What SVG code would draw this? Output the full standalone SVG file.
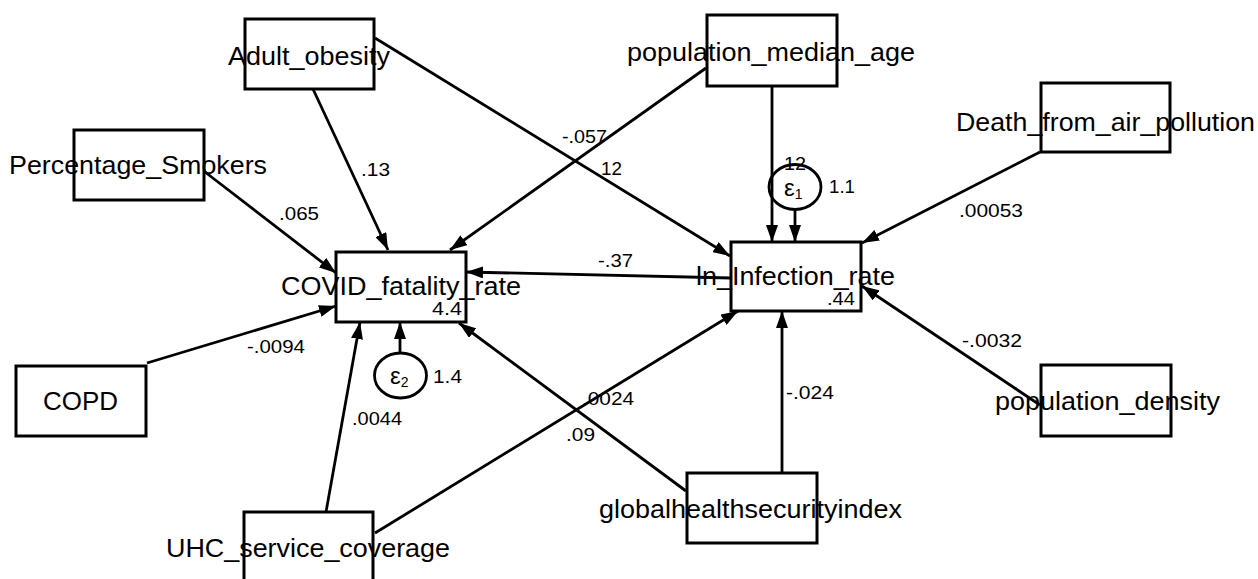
<svg xmlns="http://www.w3.org/2000/svg" width="1258" height="579" viewBox="0 0 1258 579">
<style>
.box{fill:#fff;stroke:#000;stroke-width:3}
.lbl{font-family:"Liberation Sans",Arial,sans-serif;font-size:25px;fill:#000}
.num{font-family:"Liberation Sans",Arial,sans-serif;font-size:19px;fill:#000}
.eps{font-family:"Liberation Sans",Arial,sans-serif;font-size:24px;fill:#000}
.edge{stroke:#000;stroke-width:2.8;fill:none;marker-end:url(#ah)}
.err{fill:none;stroke:#000;stroke-width:2.8}
</style>
<defs>
<marker id="ah" markerUnits="userSpaceOnUse" markerWidth="18" markerHeight="12" refX="17" refY="6" orient="auto">
<path d="M0,0 L17,6 L0,12 z" fill="#000"/>
</marker>
</defs>
<rect width="1258" height="579" fill="#fff"/>
<g id="connectors">
<line class="edge" x1="313" y1="89" x2="388" y2="250"/>
<line class="edge" x1="375" y1="38" x2="730" y2="256"/>
<line class="edge" x1="706" y1="68" x2="450" y2="250"/>
<line class="edge" x1="205" y1="172" x2="336" y2="273"/>
<line class="edge" x1="147" y1="363" x2="336" y2="306"/>
<line class="edge" x1="326" y1="512" x2="360" y2="322"/>
<line class="edge" x1="375" y1="533" x2="738" y2="311"/>
<line class="edge" x1="686" y1="491" x2="459" y2="323"/>
<line class="edge" x1="782" y1="473" x2="782" y2="311"/>
<line class="edge" x1="1040" y1="405" x2="862" y2="286"/>
<line class="edge" x1="1040" y1="152" x2="862" y2="243"/>
<line class="edge" x1="731" y1="278" x2="466" y2="272"/>
<line class="edge" x1="772" y1="86" x2="772" y2="242"/>
<line class="edge" x1="795" y1="210" x2="795" y2="242"/>
<line class="edge" x1="400" y1="353" x2="400" y2="322"/>
<text class="num" x="361" y="176" textLength="29" lengthAdjust="spacingAndGlyphs">.13</text>
<text class="num" x="279" y="220" textLength="40" lengthAdjust="spacingAndGlyphs">.065</text>
<text class="num" x="562" y="143" textLength="45" lengthAdjust="spacingAndGlyphs">-.057</text>
<text class="num" x="601" y="175" textLength="21" lengthAdjust="spacingAndGlyphs">12</text>
<text class="num" x="784" y="170" textLength="22" lengthAdjust="spacingAndGlyphs">12</text>
<text class="num" x="959" y="217" textLength="64" lengthAdjust="spacingAndGlyphs">.00053</text>
<text class="num" x="598" y="267" textLength="35" lengthAdjust="spacingAndGlyphs">-.37</text>
<text class="num" x="247" y="353" textLength="58" lengthAdjust="spacingAndGlyphs">-.0094</text>
<text class="num" x="352" y="425" textLength="50" lengthAdjust="spacingAndGlyphs">.0044</text>
<text class="num" x="582" y="405" textLength="52" lengthAdjust="spacingAndGlyphs">.0024</text>
<text class="num" x="566" y="441" textLength="29" lengthAdjust="spacingAndGlyphs">.09</text>
<text class="num" x="786" y="399" textLength="48" lengthAdjust="spacingAndGlyphs">-.024</text>
<text class="num" x="962" y="347" textLength="60" lengthAdjust="spacingAndGlyphs">-.0032</text>
</g>
<g id="Adult_obesity">
<rect class="box" x="245" y="19" width="129" height="70"/>
<text class="lbl" x="228" y="65" textLength="162" lengthAdjust="spacingAndGlyphs">Adult_obesity</text>
</g>
<g id="population_median_age">
<rect class="box" x="707" y="15" width="130" height="71"/>
<text class="lbl" x="627" y="61" textLength="288" lengthAdjust="spacingAndGlyphs">population_median_age</text>
</g>
<g id="Percentage_Smokers">
<rect class="box" x="74" y="130" width="130" height="70"/>
<text class="lbl" x="9" y="174" textLength="258" lengthAdjust="spacingAndGlyphs">Percentage_Smokers</text>
</g>
<g id="Death_from_air_pollution">
<rect class="box" x="1041" y="83" width="129" height="69"/>
<text class="lbl" x="956" y="131" textLength="299" lengthAdjust="spacingAndGlyphs">Death_from_air_pollution</text>
</g>
<g id="COVID_fatality_rate">
<rect class="box" x="336" y="252" width="130" height="70"/>
<text class="lbl" x="281" y="295" textLength="240" lengthAdjust="spacingAndGlyphs">COVID_fatality_rate</text>
<text class="num" x="432" y="315" textLength="30" lengthAdjust="spacingAndGlyphs">4.4</text>
</g>
<g id="ln_Infection_rate">
<rect class="box" x="731" y="242" width="130" height="69"/>
<text class="lbl" x="696" y="285" textLength="199" lengthAdjust="spacingAndGlyphs">ln_Infection_rate</text>
<text class="num" x="827" y="305" textLength="28" lengthAdjust="spacingAndGlyphs">.44</text>
</g>
<g id="e1">
<ellipse class="err" cx="795" cy="187" rx="26" ry="22.5"/>
<text class="eps" x="784" y="196">ε<tspan font-size="14" dy="3">1</tspan></text>
<text class="num" x="829" y="193" textLength="26" lengthAdjust="spacingAndGlyphs">1.1</text>
</g>
<g id="e2">
<ellipse class="err" cx="400.5" cy="375.5" rx="26" ry="22.5"/>
<text class="eps" x="390" y="384">ε<tspan font-size="14" dy="3">2</tspan></text>
<text class="num" x="433" y="383" textLength="29" lengthAdjust="spacingAndGlyphs">1.4</text>
</g>
<g id="COPD">
<rect class="box" x="16" y="366" width="130" height="70"/>
<text class="lbl" x="43" y="410" textLength="75" lengthAdjust="spacingAndGlyphs">COPD</text>
</g>
<g id="population_density">
<rect class="box" x="1041" y="365" width="130" height="71"/>
<text class="lbl" x="995" y="410" textLength="225" lengthAdjust="spacingAndGlyphs">population_density</text>
</g>
<g id="globalhealthsecurityindex">
<rect class="box" x="687" y="473" width="130" height="70"/>
<text class="lbl" x="599" y="518" textLength="303" lengthAdjust="spacingAndGlyphs">globalhealthsecurityindex</text>
</g>
<g id="UHC_service_coverage">
<rect class="box" x="244" y="512" width="129" height="72"/>
<text class="lbl" x="166" y="557" textLength="284" lengthAdjust="spacingAndGlyphs">UHC_service_coverage</text>
</g>
</svg>
